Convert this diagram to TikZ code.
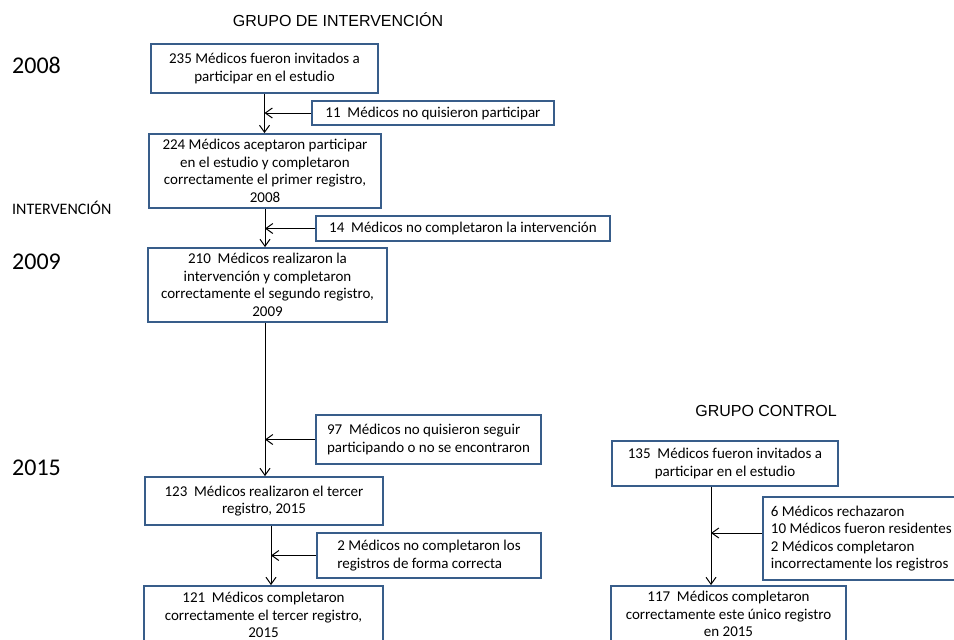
\documentclass[tikz,border=0pt]{standalone}
\usepackage{fontspec}
\setmainfont{Carlito}
\newfontfamily\arialfont{Liberation Sans}
\usetikzlibrary{arrows.meta,positioning}
\definecolor{azul}{RGB}{56,93,138}

\begin{document}
\begin{tikzpicture}[x=1pt, y=-1pt,
    caja/.style={rectangle, draw=azul, line width=1.8pt, align=center, inner sep=2pt, font=\fontsize{15}{17.5}\selectfont},
    flecha/.style={->, >={Straight Barb[length=7pt,width=10pt]}, line width=1pt},
    anio/.style={anchor=west, inner sep=0pt, font=\fontsize{24}{28}\selectfont},
    titulo/.style={inner sep=0pt, font=\arialfont\fontsize{16}{19}\selectfont}
]
\useasboundingbox (0,0) rectangle (954,640);
\clip (0,0) rectangle (954,640);

% Titulos y años
\node[titulo] (tInt) at (338,20) {GRUPO DE INTERVENCIÓN};
\node[titulo] (tCon) at (766,411) {GRUPO CONTROL};
\node[anio] (y2008) at (12,65) {2008};
\node[anio, font=\fontsize{16}{19}\selectfont] (interv) at (12,208) {INTERVENCIÓN};
\node[anio] (y2009) at (12,262) {2009};
\node[anio] (y2015) at (12,468) {2015};

% Grupo de intervencion
\node[caja, minimum width=227, minimum height=49] (A) at (264.5,68.5) {235 Médicos fueron invitados a\\participar en el estudio};
\node[caja, minimum width=242, minimum height=24] (n11) at (433,113) {11~ Médicos no quisieron participar};
\node[caja, minimum width=232, minimum height=74] (B) at (265,171) {224 Médicos aceptaron participar\\en el estudio y completaron\\correctamente el primer registro,\\2008};
\node[caja, minimum width=294, minimum height=25] (n14) at (463,228.5) {14~ Médicos no completaron la intervención};
\node[caja, minimum width=239, minimum height=74] (C) at (267.5,285) {210~ Médicos realizaron la\\intervención y completaron\\correctamente el segundo registro,\\2009};
\node[caja, minimum width=225, minimum height=49, align=left] (n97) at (428.5,439.5) {97~ Médicos no quisieron seguir\\participando o no se encontraron};
\node[caja, minimum width=238, minimum height=48] (D) at (264,501) {123~ Médicos realizaron el tercer\\registro, 2015};
\node[caja, minimum width=224, minimum height=45, align=left] (n2) at (429,555.5) {2 Médicos no completaron los\\registros de forma correcta};
\node[caja, minimum width=239, minimum height=58] (E) at (263.5,615) {121~ Médicos completaron\\correctamente el tercer registro,\\2015};

% Grupo control
\node[caja, minimum width=226, minimum height=45] (R1) at (725,463.5) {135~ Médicos fueron invitados a\\participar en el estudio};
\node[caja, anchor=west, minimum height=83, inner xsep=8pt, align=left] (R2) at (762,538.5) {6 Médicos rechazaron\\10 Médicos fueron residentes\\2 Médicos completaron\\incorrectamente los registros};
\node[caja, minimum width=235, minimum height=56] (R3) at (728.5,614) {117~ Médicos completaron\\correctamente este único registro\\en 2015};

% Flechas
\coordinate (d1) at ([xshift=7pt]D.south);
\coordinate (r1) at ([xshift=-14pt]R1.south);
\coordinate (r2) at ([yshift=5.5pt]R2.west);
\draw[flecha] (A.south) -- (A.south |- B.north);
\draw[flecha] (n11.west) -- (n11.west -| A.south);
\draw[flecha] (B.south) -- (B.south |- C.north);
\draw[flecha] (n14.west) -- (n14.west -| B.south);
\draw[flecha] (C.south -| B.south) -- (B.south |- D.north);
\draw[flecha] (n97.west) -- (n97.west -| B.south);
\draw[flecha] (d1) -- (d1 |- E.north);
\draw[flecha] (n2.west) -- (n2.west -| d1);
\draw[flecha] (r1) -- (r1 |- R3.north);
\draw[flecha] (r2) -- (r2 -| r1);

\end{tikzpicture}
\end{document}
